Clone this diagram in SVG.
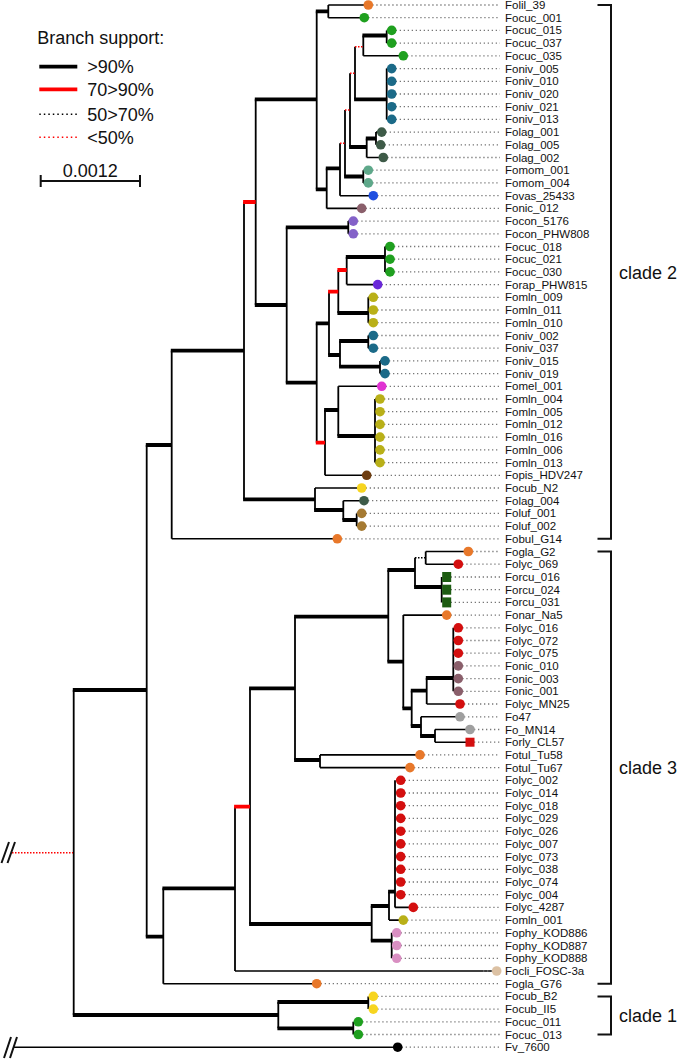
<svg xmlns="http://www.w3.org/2000/svg" width="682" height="1060" viewBox="0 0 682 1060">
<style>
.v{stroke:#000;stroke-width:1.8;fill:none}
.tk{stroke:#000;stroke-width:3.8}
.tn{stroke:#000;stroke-width:1.6}
.rt{stroke:#f00;stroke-width:3.8}
.rd{stroke:#f00;stroke-width:1.5;stroke-dasharray:1.5 1.5}
.bd{stroke:#000;stroke-width:1.5;stroke-dasharray:1.5 1.5}
.ld{stroke:#777;stroke-width:1.3;stroke-dasharray:1.3 2.7}
.lab{font-family:"Liberation Sans",Arial,sans-serif;font-size:11.5px;fill:#111}
.big{font-family:"Liberation Sans",Arial,sans-serif;font-size:18px;fill:#111}
.br{stroke:#111;stroke-width:2;fill:none}
.or{fill:#e8782a}.gr{fill:#1fa01f}.te{fill:#1b6a88}.lg{fill:#3e5b48}.mo{fill:#5ea88a}.va{fill:#1f4fe0}.ni{fill:#8a5f6b}.co{fill:#8462c8}.ra{fill:#6a28d8}.ml{fill:#b9b018}.me{fill:#e032d2}.pi{fill:#6e3d10}.cu{fill:#f7d520}.lu{fill:#a57a32}.ly{fill:#d40f0f}.rc{fill:#1d5c12}.gy{fill:#9f9f9f}.ph{fill:#d98fc2}.cl{fill:#dcc1a3}.bk{fill:#000}
</style>
<g id="legend">
<text class="big" x="37.3" y="44">Branch support:</text>
<line class="tk" x1="39.3" y1="66.7" x2="77.3" y2="66.7"/>
<text class="big" x="87.3" y="73.3">&gt;90%</text>
<line class="rt" x1="39.3" y1="89.3" x2="77.3" y2="89.3"/>
<text class="big" x="87.3" y="96.3">70&gt;90%</text>
<line x1="39.3" y1="114.3" x2="77.3" y2="114.3" stroke="#000" stroke-width="1.4" stroke-dasharray="1.5 3"/>
<text class="big" x="87.3" y="120.7">50&gt;70%</text>
<line x1="39.3" y1="137.3" x2="77.3" y2="137.3" stroke="#f00" stroke-width="1.4" stroke-dasharray="1.5 3"/>
<text class="big" x="87.3" y="144">&lt;50%</text>
<text class="big" x="90.3" y="176.5" text-anchor="middle">0.0012</text>
<path class="br" d="M40.7,175 V187 M40.7,181 H140 M140,175 V187"/>
</g>
<g id="connectors">
<path class="v" d="M328.3,5V17.7 M386.7,30.4V43.1 M363.3,35.5V55.8 M386.7,68.6V119.4 M355,46.7V99.3 M376,132.1V144.8 M366.7,138.5V157.5 M350,73.3V147 M363.3,170.2V182.9 M345,110V176.5 M340,143.3V195.7 M326.7,168.3V208.4 M316.7,11.3V189.3 M348.3,221.1V233.8 M385,246.5V271.9 M346.7,257V284.6 M368.3,297.3V322.7 M338.3,270V313 M368.3,335.5V348.2 M380,360.9V373.6 M340,341V366.7 M329,291.7V355 M375,399V462.6 M338.3,386.3V436 M325,410V475.3 M316.7,323.3V442.7 M286.7,227.3V382.7 M255.7,99.3V305 M356.7,513.4V526.1 M343.3,500.7V520 M315,488V510 M244,202V499.3 M171.7,350.7V538.8 M425.7,551.5V564.2 M441.7,577V602.4 M415,557.8V587 M453.3,627.8V691.3 M426.7,678V704 M435,729.5V742.2 M421,716.8V736 M411.7,690.7V726 M403.3,615.1V708.3 M388.3,570V661.7 M320,754.9V767.6 M295,616.7V760 M395,780.3V907.4 M389,891.7V920.1 M391.7,932.8V958.3 M371.7,906V940.7 M250,688.3V924 M235,806.7V971 M163.3,888.3V983.7 M146.7,445V936.7 M368.3,996.4V1009.1 M353.3,1021.8V1034.5 M278.3,1002V1028.3 M73.7,690V1015"/>
<path class="tk" d="M315.8,11.3H328.3 M362.4,35.5H386.7 M354.1,99.3H386.7 M365.8,138.5H376 M349.1,147H366.7 M344.1,176.5H363.3 M325.8,168.3H340 M315.8,189.3H326.7 M254.8,99.3H316.7 M285.8,227.3H348.3 M345.8,257H385 M337.4,313H368.3 M339.1,341H368.3 M339.1,366.7H380 M328.1,355H340 M315.8,323.3H329 M337.4,436H375 M324.1,410H338.3 M285.8,382.7H316.7 M254.8,305H286.7 M342.4,520H356.7 M314.1,510H343.3 M243.1,499.3H315 M170.8,350.7H244 M145.8,445H171.7 M414.1,587H441.7 M387.4,570H415 M425.8,678H453.3 M410.8,690.7H426.7 M420.1,736H435 M410.8,726H421 M402.4,708.3H411.7 M387.4,661.7H403.3 M294.1,616.7H388.3 M294.1,760H320 M249.1,688.3H295 M388.1,891.7H395 M370.8,906H389 M370.8,940.7H391.7 M249.1,924H371.7 M162.4,888.3H235 M145.8,936.7H163.3 M72.8,690H146.7 M277.4,1002H368.3 M277.4,1028.3H353.3 M72.8,1015H278.3"/>
<path class="rt" d="M337.4,270H346.7 M328.1,291.7H338.3 M315.8,442.7H325 M243.1,202H255.7 M234.1,806.7H250"/>
<path class="rd" d="M355,46.7H363.3 M350,73.3H355 M345,110H350 M340,143.3H345 M12,852.7H73"/>
<path class="bd" d="M415,557.8H425.7"/>
<path class="tn" d="M328.3,5H368.3 M328.3,17.7H364.3 M386.7,30.4H391.7 M386.7,43.1H391.7 M363.3,55.8H403.3 M386.7,68.6H391.7 M386.7,81.3H391.7 M386.7,94H391.7 M386.7,106.7H391.7 M386.7,119.4H391.7 M376,132.1H381.7 M376,144.8H380.7 M366.7,157.5H383.3 M363.3,170.2H368.3 M363.3,182.9H368.3 M340,195.7H373.3 M326.7,208.4H361.7 M348.3,221.1H353.3 M348.3,233.8H353.3 M385,246.5H390 M385,259.2H390 M385,271.9H390 M346.7,284.6H377.7 M368.3,297.3H373.3 M368.3,310H373.3 M368.3,322.7H373.3 M368.3,335.5H373.3 M368.3,348.2H373.3 M380,360.9H385 M380,373.6H385 M338.3,386.3H381.7 M375,399H380 M375,411.7H380 M375,424.4H380 M375,437.1H380 M375,449.9H380 M375,462.6H380 M325,475.3H366.7 M315,488H361.7 M343.3,500.7H364 M356.7,513.4H361.7 M356.7,526.1H361.7 M171.7,538.8H337.3 M425.7,551.5H468.3 M425.7,564.2H458.3 M403.3,615.1H446.7 M426.7,704H460 M421,716.8H460 M435,729.5H470 M435,742.2H470 M320,754.9H420 M320,767.6H410 M395,907.4H413.3 M389,920.1H403.3 M235,971H496.7 M163.3,983.7H316.7 M13,1047.2H397.7"/>
<path class="br" d="M1.5,863L9,842 M7.5,863L15,842 M4,1058L11,1037 M10,1058L17,1037"/>
</g>
<g id="leader-lines">
<path class="ld" d="M368.3,5H500 M364.3,17.7H500 M391.7,30.4H500 M391.7,43.1H500 M403.3,55.8H500 M391.7,68.6H500 M391.7,81.3H500 M391.7,94H500 M391.7,106.7H500 M391.7,119.4H500 M381.7,132.1H500 M380.7,144.8H500 M383.3,157.5H500 M368.3,170.2H500 M368.3,182.9H500 M373.3,195.7H500 M361.7,208.4H500 M353.3,221.1H500 M353.3,233.8H500 M390,246.5H500 M390,259.2H500 M390,271.9H500 M377.7,284.6H500 M373.3,297.3H500 M373.3,310H500 M373.3,322.7H500 M373.3,335.5H500 M373.3,348.2H500 M385,360.9H500 M385,373.6H500 M381.7,386.3H500 M380,399H500 M380,411.7H500 M380,424.4H500 M380,437.1H500 M380,449.9H500 M380,462.6H500 M366.7,475.3H500 M361.7,488H500 M364,500.7H500 M361.7,513.4H500 M361.7,526.1H500 M337.3,538.8H500 M468.3,551.5H500 M458.3,564.2H500 M446.7,577H500 M446.7,589.7H500 M446.7,602.4H500 M446.7,615.1H500 M458.3,627.8H500 M458.3,640.5H500 M458.3,653.2H500 M458.3,665.9H500 M458.3,678.6H500 M458.3,691.3H500 M460,704H500 M460,716.8H500 M470,729.5H500 M470,742.2H500 M420,754.9H500 M410,767.6H500 M400.7,780.3H500 M400.7,793H500 M400.7,805.7H500 M400.7,818.4H500 M400.7,831.2H500 M400.7,843.9H500 M400.7,856.6H500 M400.7,869.3H500 M400.7,882H500 M400.7,894.7H500 M413.3,907.4H500 M403.3,920.1H500 M396.7,932.8H500 M396.7,945.5H500 M396.7,958.3H500 M483,971H500 M316.7,983.7H500 M373.3,996.4H500 M373.3,1009.1H500 M358.3,1021.8H500 M358.3,1034.5H500 M397.7,1047.2H500"/>
</g>
<g id="leaves" class="lab">
<g id="Folil_39"><circle class="or" cx="368.3" cy="5" r="4.8"/><text x="505" y="9">Folil_39</text></g>
<g id="Focuc_001"><circle class="gr" cx="364.3" cy="17.7" r="4.8"/><text x="505" y="21.7">Focuc_001</text></g>
<g id="Focuc_015"><circle class="gr" cx="391.7" cy="30.4" r="4.8"/><text x="505" y="34.4">Focuc_015</text></g>
<g id="Focuc_037"><circle class="gr" cx="391.7" cy="43.1" r="4.8"/><text x="505" y="47.1">Focuc_037</text></g>
<g id="Focuc_035"><circle class="gr" cx="403.3" cy="55.8" r="4.8"/><text x="505" y="59.8">Focuc_035</text></g>
<g id="Foniv_005"><circle class="te" cx="391.7" cy="68.6" r="4.8"/><text x="505" y="72.6">Foniv_005</text></g>
<g id="Foniv_010"><circle class="te" cx="391.7" cy="81.3" r="4.8"/><text x="505" y="85.3">Foniv_010</text></g>
<g id="Foniv_020"><circle class="te" cx="391.7" cy="94" r="4.8"/><text x="505" y="98">Foniv_020</text></g>
<g id="Foniv_021"><circle class="te" cx="391.7" cy="106.7" r="4.8"/><text x="505" y="110.7">Foniv_021</text></g>
<g id="Foniv_013"><circle class="te" cx="391.7" cy="119.4" r="4.8"/><text x="505" y="123.4">Foniv_013</text></g>
<g id="Folag_001"><circle class="lg" cx="381.7" cy="132.1" r="4.8"/><text x="505" y="136.1">Folag_001</text></g>
<g id="Folag_005"><circle class="lg" cx="380.7" cy="144.8" r="4.8"/><text x="505" y="148.8">Folag_005</text></g>
<g id="Folag_002"><circle class="lg" cx="383.3" cy="157.5" r="4.8"/><text x="505" y="161.5">Folag_002</text></g>
<g id="Fomom_001"><circle class="mo" cx="368.3" cy="170.2" r="4.8"/><text x="505" y="174.2">Fomom_001</text></g>
<g id="Fomom_004"><circle class="mo" cx="368.3" cy="182.9" r="4.8"/><text x="505" y="186.9">Fomom_004</text></g>
<g id="Fovas_25433"><circle class="va" cx="373.3" cy="195.7" r="4.8"/><text x="505" y="199.7">Fovas_25433</text></g>
<g id="Fonic_012"><circle class="ni" cx="361.7" cy="208.4" r="4.8"/><text x="505" y="212.4">Fonic_012</text></g>
<g id="Focon_5176"><circle class="co" cx="353.3" cy="221.1" r="4.8"/><text x="505" y="225.1">Focon_5176</text></g>
<g id="Focon_PHW808"><circle class="co" cx="353.3" cy="233.8" r="4.8"/><text x="505" y="237.8">Focon_PHW808</text></g>
<g id="Focuc_018"><circle class="gr" cx="390" cy="246.5" r="4.8"/><text x="505" y="250.5">Focuc_018</text></g>
<g id="Focuc_021"><circle class="gr" cx="390" cy="259.2" r="4.8"/><text x="505" y="263.2">Focuc_021</text></g>
<g id="Focuc_030"><circle class="gr" cx="390" cy="271.9" r="4.8"/><text x="505" y="275.9">Focuc_030</text></g>
<g id="Forap_PHW815"><circle class="ra" cx="377.7" cy="284.6" r="4.8"/><text x="505" y="288.6">Forap_PHW815</text></g>
<g id="Fomln_009"><circle class="ml" cx="373.3" cy="297.3" r="4.8"/><text x="505" y="301.3">Fomln_009</text></g>
<g id="Fomln_011"><circle class="ml" cx="373.3" cy="310" r="4.8"/><text x="505" y="314">Fomln_011</text></g>
<g id="Fomln_010"><circle class="ml" cx="373.3" cy="322.7" r="4.8"/><text x="505" y="326.7">Fomln_010</text></g>
<g id="Foniv_002"><circle class="te" cx="373.3" cy="335.5" r="4.8"/><text x="505" y="339.5">Foniv_002</text></g>
<g id="Foniv_037"><circle class="te" cx="373.3" cy="348.2" r="4.8"/><text x="505" y="352.2">Foniv_037</text></g>
<g id="Foniv_015"><circle class="te" cx="385" cy="360.9" r="4.8"/><text x="505" y="364.9">Foniv_015</text></g>
<g id="Foniv_019"><circle class="te" cx="385" cy="373.6" r="4.8"/><text x="505" y="377.6">Foniv_019</text></g>
<g id="Fomel_001"><circle class="me" cx="381.7" cy="386.3" r="4.8"/><text x="505" y="390.3">Fomel_001</text></g>
<g id="Fomln_004"><circle class="ml" cx="380" cy="399" r="4.8"/><text x="505" y="403">Fomln_004</text></g>
<g id="Fomln_005"><circle class="ml" cx="380" cy="411.7" r="4.8"/><text x="505" y="415.7">Fomln_005</text></g>
<g id="Fomln_012"><circle class="ml" cx="380" cy="424.4" r="4.8"/><text x="505" y="428.4">Fomln_012</text></g>
<g id="Fomln_016"><circle class="ml" cx="380" cy="437.1" r="4.8"/><text x="505" y="441.1">Fomln_016</text></g>
<g id="Fomln_006"><circle class="ml" cx="380" cy="449.9" r="4.8"/><text x="505" y="453.9">Fomln_006</text></g>
<g id="Fomln_013"><circle class="ml" cx="380" cy="462.6" r="4.8"/><text x="505" y="466.6">Fomln_013</text></g>
<g id="Fopis_HDV247"><circle class="pi" cx="366.7" cy="475.3" r="4.8"/><text x="505" y="479.3">Fopis_HDV247</text></g>
<g id="Focub_N2"><circle class="cu" cx="361.7" cy="488" r="4.8"/><text x="505" y="492">Focub_N2</text></g>
<g id="Folag_004"><circle class="lg" cx="364" cy="500.7" r="4.8"/><text x="505" y="504.7">Folag_004</text></g>
<g id="Foluf_001"><circle class="lu" cx="361.7" cy="513.4" r="4.8"/><text x="505" y="517.4">Foluf_001</text></g>
<g id="Foluf_002"><circle class="lu" cx="361.7" cy="526.1" r="4.8"/><text x="505" y="530.1">Foluf_002</text></g>
<g id="Fobul_G14"><circle class="or" cx="337.3" cy="538.8" r="4.8"/><text x="505" y="542.8">Fobul_G14</text></g>
<g id="Fogla_G2"><circle class="or" cx="468.3" cy="551.5" r="4.8"/><text x="505" y="555.5">Fogla_G2</text></g>
<g id="Folyc_069"><circle class="ly" cx="458.3" cy="564.2" r="4.8"/><text x="505" y="568.2">Folyc_069</text></g>
<g id="Forcu_016"><rect class="rc" x="442.2" y="572" width="9" height="10"/><text x="505" y="581">Forcu_016</text></g>
<g id="Forcu_024"><rect class="rc" x="442.2" y="584.7" width="9" height="10"/><text x="505" y="593.7">Forcu_024</text></g>
<g id="Forcu_031"><rect class="rc" x="442.2" y="597.4" width="9" height="10"/><text x="505" y="606.4">Forcu_031</text></g>
<g id="Fonar_Na5"><circle class="or" cx="446.7" cy="615.1" r="4.8"/><text x="505" y="619.1">Fonar_Na5</text></g>
<g id="Folyc_016"><circle class="ly" cx="458.3" cy="627.8" r="4.8"/><text x="505" y="631.8">Folyc_016</text></g>
<g id="Folyc_072"><circle class="ly" cx="458.3" cy="640.5" r="4.8"/><text x="505" y="644.5">Folyc_072</text></g>
<g id="Folyc_075"><circle class="ly" cx="458.3" cy="653.2" r="4.8"/><text x="505" y="657.2">Folyc_075</text></g>
<g id="Fonic_010"><circle class="ni" cx="458.3" cy="665.9" r="4.8"/><text x="505" y="669.9">Fonic_010</text></g>
<g id="Fonic_003"><circle class="ni" cx="458.3" cy="678.6" r="4.8"/><text x="505" y="682.6">Fonic_003</text></g>
<g id="Fonic_001"><circle class="ni" cx="458.3" cy="691.3" r="4.8"/><text x="505" y="695.3">Fonic_001</text></g>
<g id="Folyc_MN25"><circle class="ly" cx="460" cy="704" r="4.8"/><text x="505" y="708">Folyc_MN25</text></g>
<g id="Fo47"><circle class="gy" cx="460" cy="716.8" r="4.8"/><text x="505" y="720.8">Fo47</text></g>
<g id="Fo_MN14"><circle class="gy" cx="470" cy="729.5" r="4.8"/><text x="505" y="733.5">Fo_MN14</text></g>
<g id="Forly_CL57"><rect class="ly" x="465.5" y="737.7" width="9" height="9"/><text x="505" y="746.2">Forly_CL57</text></g>
<g id="Fotul_Tu58"><circle class="or" cx="420" cy="754.9" r="4.8"/><text x="505" y="758.9">Fotul_Tu58</text></g>
<g id="Fotul_Tu67"><circle class="or" cx="410" cy="767.6" r="4.8"/><text x="505" y="771.6">Fotul_Tu67</text></g>
<g id="Folyc_002"><circle class="ly" cx="400.7" cy="780.3" r="4.8"/><text x="505" y="784.3">Folyc_002</text></g>
<g id="Folyc_014"><circle class="ly" cx="400.7" cy="793" r="4.8"/><text x="505" y="797">Folyc_014</text></g>
<g id="Folyc_018"><circle class="ly" cx="400.7" cy="805.7" r="4.8"/><text x="505" y="809.7">Folyc_018</text></g>
<g id="Folyc_029"><circle class="ly" cx="400.7" cy="818.4" r="4.8"/><text x="505" y="822.4">Folyc_029</text></g>
<g id="Folyc_026"><circle class="ly" cx="400.7" cy="831.2" r="4.8"/><text x="505" y="835.2">Folyc_026</text></g>
<g id="Folyc_007"><circle class="ly" cx="400.7" cy="843.9" r="4.8"/><text x="505" y="847.9">Folyc_007</text></g>
<g id="Folyc_073"><circle class="ly" cx="400.7" cy="856.6" r="4.8"/><text x="505" y="860.6">Folyc_073</text></g>
<g id="Folyc_038"><circle class="ly" cx="400.7" cy="869.3" r="4.8"/><text x="505" y="873.3">Folyc_038</text></g>
<g id="Folyc_074"><circle class="ly" cx="400.7" cy="882" r="4.8"/><text x="505" y="886">Folyc_074</text></g>
<g id="Folyc_004"><circle class="ly" cx="400.7" cy="894.7" r="4.8"/><text x="505" y="898.7">Folyc_004</text></g>
<g id="Folyc_4287"><circle class="ly" cx="413.3" cy="907.4" r="4.8"/><text x="505" y="911.4">Folyc_4287</text></g>
<g id="Fomln_001"><circle class="ml" cx="403.3" cy="920.1" r="4.8"/><text x="505" y="924.1">Fomln_001</text></g>
<g id="Fophy_KOD886"><circle class="ph" cx="396.7" cy="932.8" r="4.8"/><text x="505" y="936.8">Fophy_KOD886</text></g>
<g id="Fophy_KOD887"><circle class="ph" cx="396.7" cy="945.5" r="4.8"/><text x="505" y="949.5">Fophy_KOD887</text></g>
<g id="Fophy_KOD888"><circle class="ph" cx="396.7" cy="958.3" r="4.8"/><text x="505" y="962.3">Fophy_KOD888</text></g>
<g id="Focli_FOSC-3a"><circle class="cl" cx="496.7" cy="971" r="4.8"/><text x="505" y="975">Focli_FOSC-3a</text></g>
<g id="Fogla_G76"><circle class="or" cx="316.7" cy="983.7" r="4.8"/><text x="505" y="987.7">Fogla_G76</text></g>
<g id="Focub_B2"><circle class="cu" cx="373.3" cy="996.4" r="4.8"/><text x="505" y="1000.4">Focub_B2</text></g>
<g id="Focub_II5"><circle class="cu" cx="373.3" cy="1009.1" r="4.8"/><text x="505" y="1013.1">Focub_II5</text></g>
<g id="Focuc_011"><circle class="gr" cx="358.3" cy="1021.8" r="4.8"/><text x="505" y="1025.8">Focuc_011</text></g>
<g id="Focuc_013"><circle class="gr" cx="358.3" cy="1034.5" r="4.8"/><text x="505" y="1038.5">Focuc_013</text></g>
<g id="Fv_7600"><circle class="bk" cx="397.7" cy="1047.2" r="4.8"/><text x="505" y="1051.2">Fv_7600</text></g>
</g>
<g id="clades">
<path class="br" d="M597.5,5H611V538.8H597.5"/>
<text class="big" x="619" y="278.5">clade 2</text>
<path class="br" d="M597.5,551.5H611V983.7H597.5"/>
<text class="big" x="619" y="774">clade 3</text>
<path class="br" d="M597.5,996.4H611V1034.5H597.5"/>
<text class="big" x="619" y="1022">clade 1</text>
</g>
</svg>
